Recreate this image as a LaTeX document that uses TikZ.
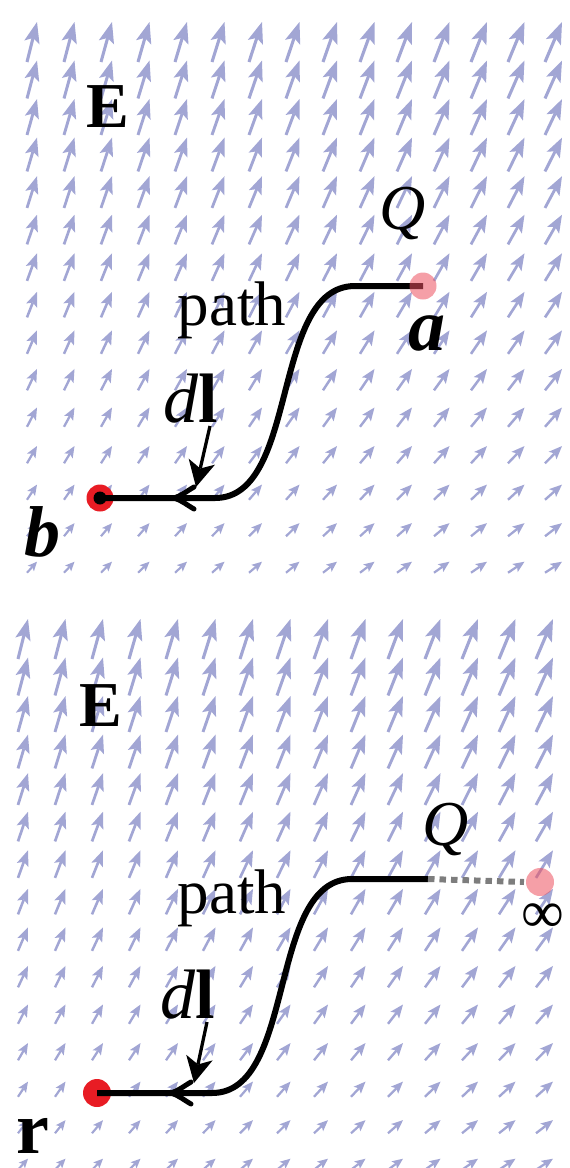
\documentclass[tikz,border=0pt]{standalone}
\usepackage{fontspec}
\setmainfont{Liberation Serif}
\usetikzlibrary{calc}
\definecolor{fieldc}{RGB}{162,166,212}
\definecolor{chargec}{RGB}{236,80,95}
\definecolor{dotred}{RGB}{232,28,36}
\definecolor{dashgray}{RGB}{125,125,125}
\begin{document}
\begin{tikzpicture}[x=1pt,y=-1pt,
  lbl/.style={inner sep=0pt, outer sep=0pt, anchor=base},
  pathline/.style={line width=6pt, black},
  barb/.style={line width=5pt, black, line cap=round},
  dlshaft/.style={line width=3.3pt, black},
  dlhead/.style={fill=black},
  chargedot/.style={fill=chargec, opacity=0.55},
  infline/.style={line width=6pt, dashgray, dash pattern=on 6.5pt off 5pt}]
\useasboundingbox (0,0) rectangle (570,1168);
% field arrows (drawn directly: a quiver plot)
\foreach \xo/\yo in {37/22, 28/619} {
 \foreach \i in {0,...,14} {
  \foreach \j in {0,...,14} {
   \pgfmathsetmacro{\tx}{\xo+37.5*\i}
   \pgfmathsetmacro{\ty}{\yo+38.55*\j}
   \pgfmathsetmacro{\dx}{10+7*\i/14}
   \pgfmathsetmacro{\dy}{40-2.07*\j}
   \pgfmathsetmacro{\L}{sqrt(\dx*\dx+\dy*\dy)}
   \pgfmathsetmacro{\ux}{\dx/\L}
   \pgfmathsetmacro{\uy}{-\dy/\L}
   \pgfmathsetmacro{\hl}{0.45*\L+2.5}
   \pgfmathsetmacro{\hw}{0.14*\L+2.1}
   \pgfmathsetmacro{\hn}{0.78*\hl}
   \pgfmathsetmacro{\lw}{1.5+0.038*\L}
   \pgfmathsetmacro{\bx}{\tx-\hl*\ux}
   \pgfmathsetmacro{\by}{\ty-\hl*\uy}
   \pgfmathsetmacro{\nx}{\tx-\hn*\ux}
   \pgfmathsetmacro{\ny}{\ty-\hn*\uy}
   \draw[fieldc, line width=\lw pt] (\tx-\dx,\ty+\dy) -- (\nx,\ny);
   \fill[fieldc] (\tx,\ty) -- (\bx-\hw*\uy,\by+\hw*\ux) -- (\nx,\ny) -- (\bx+\hw*\uy,\by-\hw*\ux) -- cycle;
  }}}
% ---------- top panel ----------
\node[lbl, font=\bfseries\fontsize{64}{64}\selectfont] (E1) at (108,127) {E};
\node[lbl, font=\itshape\fontsize{64}{64}\selectfont] (Q1) at (403,229) {Q};
\node[lbl, font=\fontsize{63}{63}\selectfont] (path1) at (232,325) {path};
\node[lbl, font=\bfseries\itshape\fontsize{74}{74}\selectfont] (a1) at (427,350) {a};
\node[lbl, font=\bfseries\itshape\fontsize{72}{72}\selectfont] (b1) at (42,556) {b};
\node[lbl, font=\fontsize{70}{70}\selectfont] (dl1) at (191,422) {\textit{d}\textbf{l}};
\coordinate (bpt) at (100,498);
\coordinate (c1) at (215,498);
\coordinate (c2) at (355,286);
\coordinate (apt) at (423,286);
\coordinate (t1) at (174,498);
\coordinate (t1u) at (194,487);
\coordinate (t1d) at (194,509);
\coordinate (dla) at (210,426);
\coordinate (dlb) at (196,487);
\coordinate (dlbase) at ($(dlb)!26pt!(dla)$);
\coordinate (dlnotch) at ($(dlb)!19pt!(dla)$);
\coordinate (dlw1) at ($(dlbase)!13.5pt!90:(dlb)$);
\coordinate (dlw2) at ($(dlbase)!13.5pt!-90:(dlb)$);
\fill[dotred] (bpt) circle (13.5);
\fill[black] (bpt) circle (6.5);
\draw[pathline] (bpt) -- (c1) .. controls (300,498) and (270,286) .. (c2) -- (apt);
\draw[barb] (t1u) .. controls (187,491) and (181,496) .. (t1) .. controls (181,500) and (187,505) .. (t1d);
\draw[dlshaft] (dla) -- (dlnotch);
\fill[dlhead] (dlb) -- (dlw1) -- (dlnotch) -- (dlw2) -- cycle;
\fill[chargedot] (apt) circle (13.5);
% ---------- bottom panel ----------
\node[lbl, font=\bfseries\fontsize{64}{64}\selectfont] (E2) at (101,726) {E};
\node[lbl, font=\itshape\fontsize{64}{64}\selectfont] (Q2) at (446,845) {Q};
\node[lbl, font=\fontsize{63}{63}\selectfont] (path2) at (232,913) {path};
\node[lbl, font=\bfseries\fontsize{74}{74}\selectfont] (r2) at (33,1153) {r};
\node[lbl, font=\fontsize{70}{70}\selectfont] (dl2) at (188,1018) {\textit{d}\textbf{l}};
\node[inner sep=0pt, font=\fontsize{60}{60}\selectfont] (inf) at (543,918) {∞};
\coordinate (rpt) at (97,1093);
\coordinate (d1) at (212,1093);
\coordinate (d2) at (352,879);
\coordinate (qend) at (428,879);
\coordinate (dashend) at (524,882);
\coordinate (infpt) at (540,882);
\coordinate (t2) at (171,1093);
\coordinate (t2u) at (191,1082);
\coordinate (t2d) at (191,1104);
\coordinate (dlc) at (207,1022);
\coordinate (dld) at (194,1083);
\coordinate (dlbase2) at ($(dld)!26pt!(dlc)$);
\coordinate (dlnotch2) at ($(dld)!19pt!(dlc)$);
\coordinate (dlw3) at ($(dlbase2)!13.5pt!90:(dld)$);
\coordinate (dlw4) at ($(dlbase2)!13.5pt!-90:(dld)$);
\fill[dotred] (rpt) circle (14);
\draw[pathline] (rpt) -- (d1) .. controls (297,1093) and (267,879) .. (d2) -- (qend);
\draw[infline] (qend) -- (dashend);
\draw[barb] (t2u) .. controls (184,1086) and (178,1091) .. (t2) .. controls (178,1095) and (184,1100) .. (t2d);
\draw[dlshaft] (dlc) -- (dlnotch2);
\fill[dlhead] (dld) -- (dlw3) -- (dlnotch2) -- (dlw4) -- cycle;
\fill[chargedot] (infpt) circle (14);
\end{tikzpicture}
\end{document}
